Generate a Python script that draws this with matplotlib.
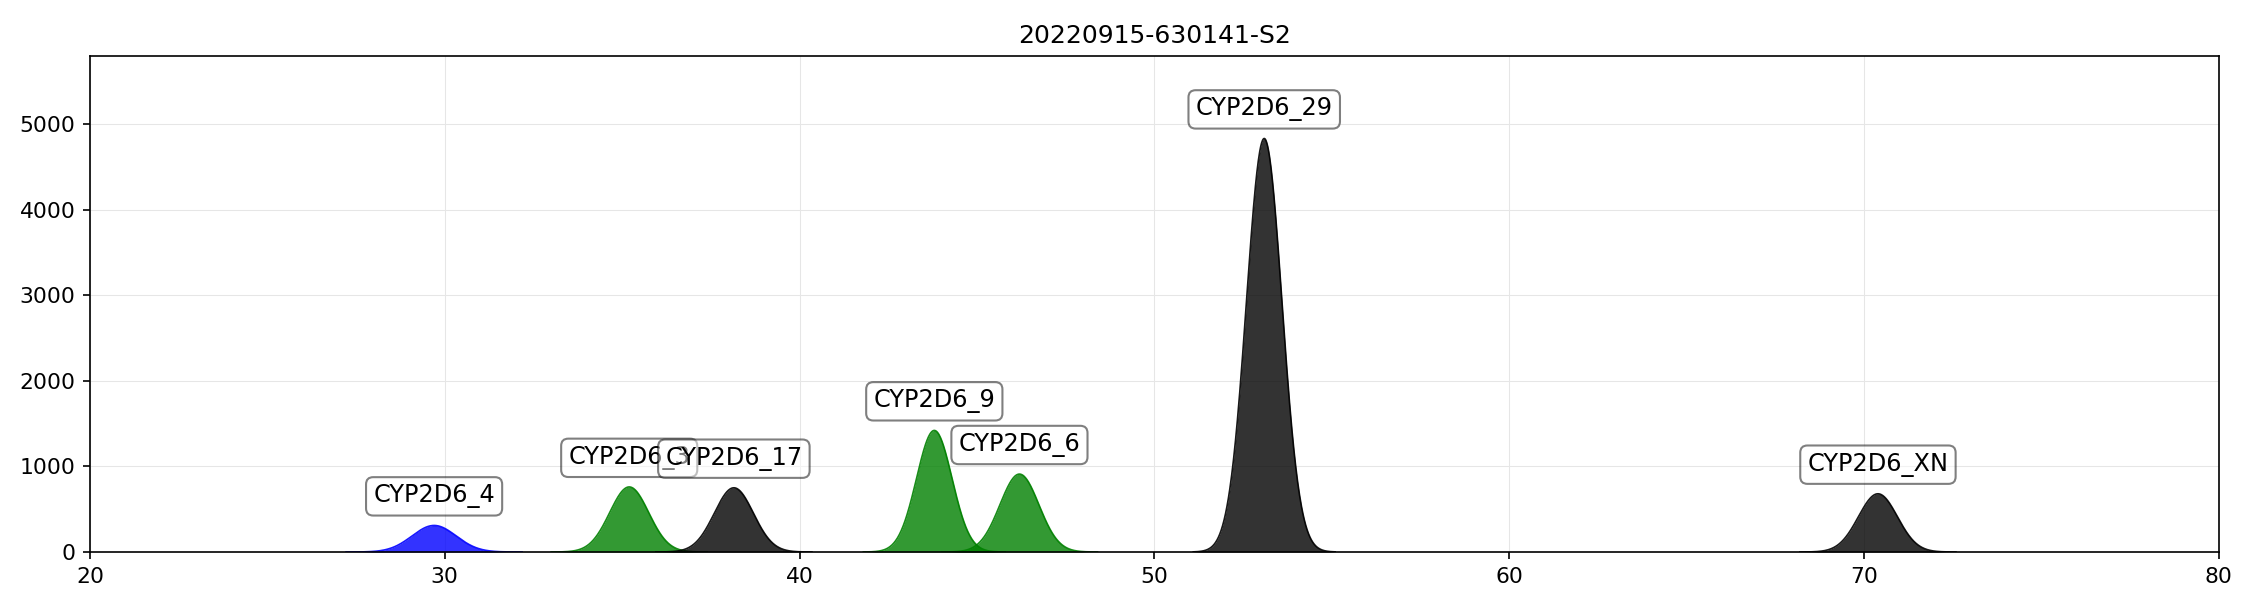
import numpy as np
import matplotlib.pyplot as plt

# peak data
names = ['CYP2D6_4', 'CYP2D6_3', 'CYP2D6_17', 'CYP2D6_9', 'CYP2D6_6', 'CYP2D6_29', 'CYP2D6_XN']
centers = [29.7, 35.2, 38.15, 43.8, 46.2, 53.1, 70.4]
heights = [310, 760, 750, 1420, 910, 4830, 680]
sigmas = [0.62, 0.55, 0.55, 0.5, 0.55, 0.5, 0.55]
colors = ['blue', 'green', 'black', 'green', 'green', 'black', 'black']

fig, ax = plt.subplots(figsize=(15, 4), dpi=150)
ax.set_axisbelow(True)

for name, c, h, s, col in zip(names, centers, heights, sigmas, colors):
    x = np.linspace(c - 4 * s, c + 4 * s, 300)
    y = h * np.exp(-0.5 * ((x - c) / s) ** 2)
    ax.fill_between(x, y, color=col, alpha=0.8, linewidth=0, zorder=2)
    ax.plot(x, y, color=col, linewidth=0.8, alpha=0.9, zorder=2)
    ax.text(c, h + 340, name, ha='center', va='center', fontsize=11.5, zorder=3,
            bbox=dict(boxstyle='round,pad=0.3', facecolor='white', edgecolor='black', alpha=0.5))

ax.set_xlim(20, 80)
ax.set_ylim(0, max(heights) * 1.2)
ax.grid(True, color='#e6e6e6', linestyle='-', linewidth=0.5)
ax.tick_params(labelsize=10.5)
ax.set_title('20220915-630141-S2', fontsize=12)

plt.subplots_adjust(left=0.04, right=0.986, top=0.907, bottom=0.08)
plt.savefig('out.png')
